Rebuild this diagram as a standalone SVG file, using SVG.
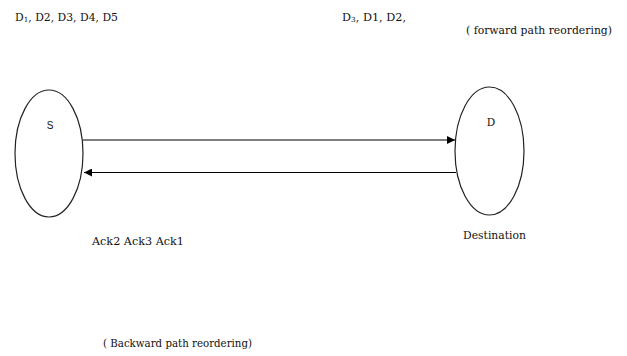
<svg xmlns="http://www.w3.org/2000/svg" width="627" height="356" viewBox="0 0 627 356">
  <defs>
    <marker id="arrow" viewBox="0 0 10 10" refX="10" refY="5" markerWidth="9" markerHeight="8" markerUnits="userSpaceOnUse" orient="auto">
      <path d="M0,0 L10,5 L0,10 z" fill="#000"/>
    </marker>
    <style>
      .node { fill: #fff; stroke: #222; stroke-width: 1.2; }
      .edge { stroke: #000; stroke-width: 1.2; fill: none; marker-end: url(#arrow); }
      text { fill: #111; }
      .t { font-family: 'DejaVu Serif', 'Liberation Serif', serif; font-size: 10.5px; }
      .s { font-family: 'Liberation Sans', 'DejaVu Sans', sans-serif; font-size: 10px; }
    </style>
  </defs>
  <rect width="627" height="356" fill="#fff"/>

  <!-- packet order sent by the source and order seen at the destination -->
  <text class="t" x="15" y="21" textLength="103" lengthAdjust="spacingAndGlyphs">D<tspan font-size="7" dy="1">1</tspan><tspan dy="-1">, D2, D3, D4, D5</tspan></text>
  <text class="t" x="342" y="21" textLength="64" lengthAdjust="spacingAndGlyphs">D<tspan font-size="7" dy="1">3</tspan><tspan dy="-1">, D1, D2,</tspan></text>
  <text class="t" x="466" y="34" textLength="146" lengthAdjust="spacingAndGlyphs">( forward path reordering)</text>

  <g id="source">
    <ellipse class="node" cx="49" cy="153.5" rx="34" ry="63.5"/>
    <text class="s" x="50" y="129" text-anchor="middle">S</text>
  </g>

  <g id="destination">
    <ellipse class="node" cx="489.5" cy="151" rx="34.5" ry="64"/>
    <text class="t" x="491" y="126" text-anchor="middle">D</text>
    <text class="t" x="463" y="239" textLength="63" lengthAdjust="spacingAndGlyphs">Destination</text>
  </g>

  <g id="connectors">
    <line class="edge" x1="83" y1="140" x2="455" y2="140"/>
    <line class="edge" x1="456" y1="172.5" x2="84" y2="172.5"/>
  </g>

  <!-- acknowledgement order on the return path -->
  <text class="t" x="92" y="245" textLength="92" lengthAdjust="spacingAndGlyphs">Ack2 Ack3 Ack1</text>
  <text class="t" x="103" y="347" textLength="149" lengthAdjust="spacingAndGlyphs">( Backward path reordering)</text>
</svg>
